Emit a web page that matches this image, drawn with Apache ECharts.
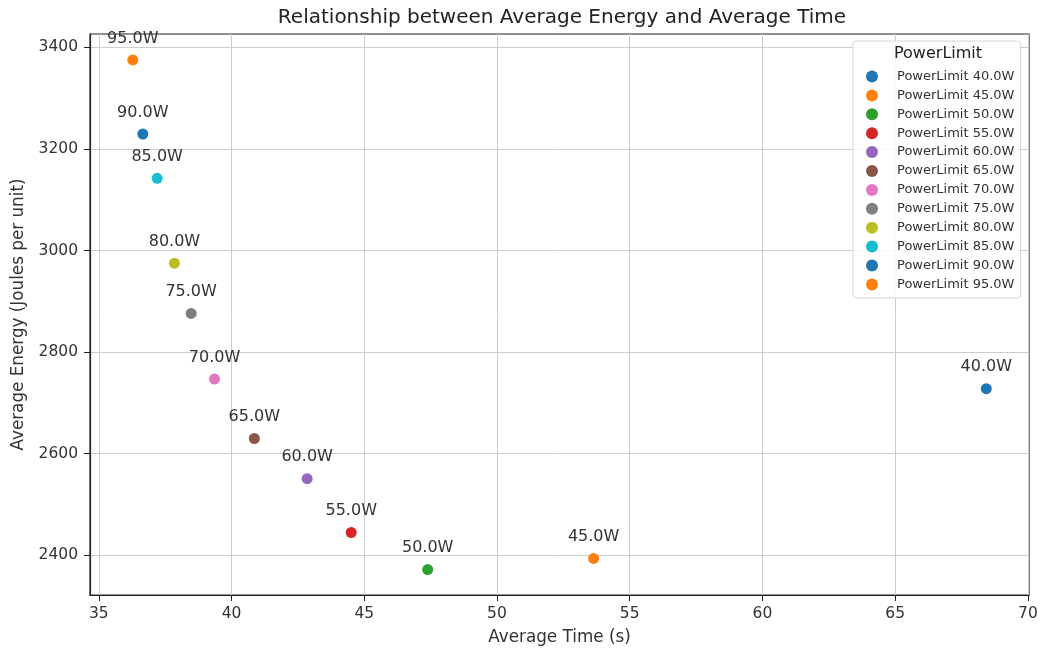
<!DOCTYPE html>
<html>
<head>
<meta charset="utf-8">
<script src="https://cdn.jsdelivr.net/npm/echarts@6/dist/echarts.min.js"></script>
<style>html,body{margin:0;padding:0;background:#fff}#c{width:1044px;height:651px}</style>
</head>
<body>
<div id="c"></div>
<script>
const powerLimits = [40, 45, 50, 55, 60, 65, 70, 75, 80, 85, 90, 95];
const avgTime = [68.43, 53.64, 47.39, 44.51, 42.85, 40.86, 39.36, 38.48, 37.85, 37.20, 36.66, 36.28];
const avgEnergy = [2728, 2394, 2372, 2445, 2551, 2630, 2747, 2876, 2975, 3142, 3229, 3375];
const xTicks = [35, 40, 45, 50, 55, 60, 65, 70];
const yTicks = [2400, 2600, 2800, 3000, 3200, 3400];
const colors = ['#1f77b4','#ff7f0e','#2ca02c','#d62728','#9467bd','#8c564b','#e377c2','#7f7f7f','#bcbd22','#17becf','#1f77b4','#ff7f0e'];

const FONT = 'DejaVu Sans';
const series = powerLimits.map((p, i) => ({
  name: 'PowerLimit ' + p.toFixed(1) + 'W',
  type: 'scatter',
  symbolSize: 11,
  itemStyle: { color: colors[i], opacity: 1 },
  label: {
    show: true, position: 'top', distance: 8,
    formatter: p.toFixed(1) + 'W',
    fontFamily: FONT, fontSize: 16, color: '#333'
  },
  data: [[avgTime[i], avgEnergy[i]]]
}));

const chart = echarts.init(document.getElementById('c'), null, { renderer: 'canvas' });
chart.setOption({
  animation: false,
  backgroundColor: '#fff',
  title: {
    text: 'Relationship between Average Energy and Average Time',
    left: 557, top: 3, textAlign: 'center',
    textStyle: { fontFamily: FONT, fontSize: 20, fontWeight: 'normal', color: '#222' }
  },
  grid: { left: 90, right: 15, top: 34, bottom: 56, show: true, borderColor: '#222', borderWidth: 1.2, backgroundColor: 'transparent' },
  xAxis: {
    type: 'value', min: 34.67, max: 70.04,
    name: 'Average Time (s)', nameLocation: 'middle', nameGap: 34,
    nameTextStyle: { fontFamily: FONT, fontSize: 16.8, color: '#333' },
    axisLine: { show: true, onZero: false, lineStyle: { color: '#222', width: 1.2 } },
    axisTick: { show: true, length: 6, customValues: xTicks, lineStyle: { color: '#222' } },
    axisLabel: { customValues: xTicks, fontFamily: FONT, fontSize: 15.5, color: '#333', margin: 11, formatter: v => String(v) },
    splitLine: { show: true, lineStyle: { color: '#cccccc', width: 1 } }
  },
  yAxis: {
    type: 'value', min: 2322, max: 3426,
    name: 'Average Energy (Joules per unit)', nameLocation: 'middle', nameGap: 63,
    nameTextStyle: { fontFamily: FONT, fontSize: 16.8, color: '#333' },
    axisLine: { show: true, onZero: false, lineStyle: { color: '#222', width: 1.2 } },
    axisTick: { show: true, length: 6, customValues: yTicks, lineStyle: { color: '#222' } },
    axisLabel: { customValues: yTicks, fontFamily: FONT, fontSize: 15.5, color: '#333', margin: 12, formatter: v => String(v) },
    splitLine: { show: true, lineStyle: { color: '#cccccc', width: 1 } }
  },
  legend: {
    orient: 'vertical', left: 853, top: 41,
    padding: [29, 6, 7, 13],
    backgroundColor: 'rgba(255,255,255,0.85)', borderColor: '#d6d6d6', borderWidth: 1, borderRadius: 3,
    icon: 'circle', itemWidth: 20, itemHeight: 12, itemGap: 5.9,
    textStyle: { fontFamily: FONT, fontSize: 13, lineHeight: 12, color: '#333', padding: [0, 0, 0, 10] },
    data: series.map(s => s.name)
  },
  graphic: [{
    type: 'text', left: 894, top: 46, z: 100,
    style: { text: 'PowerLimit', font: '16px "DejaVu Sans"', fill: '#222' }
  }],
  series: series
});
</script>
</body>
</html>
